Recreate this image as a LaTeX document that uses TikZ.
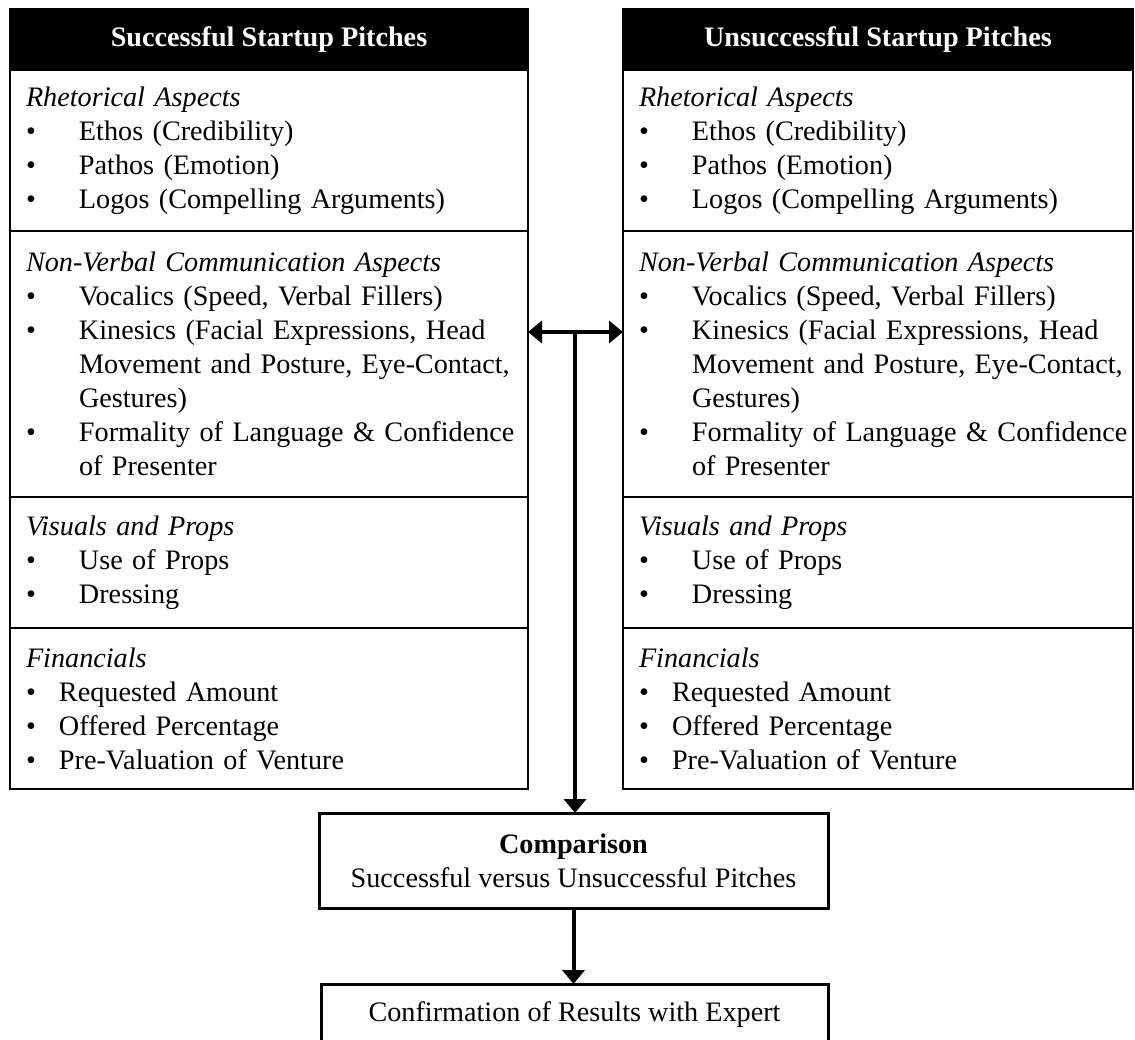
\documentclass[tikz,border=0pt]{standalone}
\usepackage{fontspec}
\setmainfont{Liberation Serif}
\usepackage{tikz}
\usetikzlibrary{arrows.meta,positioning}

\newcommand{\bitem}[1]{\makebox[26.5pt][l]{\textbullet}\mbox{#1}}
\newcommand{\bcont}[1]{\hspace*{26.5pt}\mbox{#1}}
\newcommand{\fitem}[1]{\makebox[16.5pt][l]{\textbullet}\mbox{#1}}

\begin{document}
\begin{tikzpicture}[
    x=0.5pt, y=-0.5pt,
    txt/.style={font=\fontsize{14.1}{17}\selectfont},
    head/.style={
      draw=black, fill=black, text=white,
      line width=1.2pt, outer sep=0pt, inner sep=0pt,
      anchor=north west, minimum width=#1, minimum height=30.5pt,
      font=\fontsize{14.1}{17}\selectfont\bfseries
    },
    sect/.style={
      txt, draw=black, line width=1.2pt, outer sep=0pt,
      anchor=north west, text width=#1,
      inner xsep=8pt, inner ysep=0pt, align=left
    },
    box/.style={txt, draw=black, line width=1.5pt, outer sep=0pt, align=center},
    link/.style={line width=2pt},
    tip/.tip={Triangle[length=7pt,width=11pt]}
  ]
    \useasboundingbox (0,0) rectangle (1135,1039);

    \foreach \s/\x/\w/\tw/\title in {l/10/259pt/243pt/Successful Startup Pitches,
                                     r/623/255pt/239pt/Unsuccessful Startup Pitches} {
      \node[head=\w] (\s h) at (\x,9) {\title};
      \node[sect=\tw, minimum height=80.5pt] (\s 1) at (\s h.south west) {%
        \textit{Rhetorical Aspects}\\
        \bitem{Ethos (Credibility)}\\
        \bitem{Pathos (Emotion)}\\
        \bitem{Logos (Compelling Arguments)}};
      \node[sect=\tw, minimum height=133pt] (\s 2) at (\s 1.south west) {%
        \textit{Non-Verbal Communication Aspects}\\
        \bitem{Vocalics (Speed, Verbal Fillers)}\\
        \bitem{Kinesics (Facial Expressions, Head}\\
        \bcont{Movement and Posture, Eye-Contact,}\\
        \bcont{Gestures)}\\
        \bitem{Formality of Language \& Confidence}\\
        \bcont{of Presenter}};
      \node[sect=\tw, minimum height=65.5pt] (\s 3) at (\s 2.south west) {%
        \textit{Visuals and Props}\\
        \bitem{Use of Props}\\
        \bitem{Dressing}};
      \node[sect=\tw, minimum height=80.5pt] (\s 4) at (\s 3.south west) {%
        \textit{Financials}\\
        \fitem{Requested Amount}\\
        \fitem{Offered Percentage}\\
        \fitem{Pre-Valuation of Venture}};
    }

    \node[box, minimum width=254.5pt, minimum height=47.5pt] (cmp) at (573.5,860.5)
      {\textbf{Comparison}\\Successful versus Unsuccessful Pitches};
    \node[box, minimum width=253.5pt, minimum height=31pt] (cnf) at (574.5,1015)
      {Confirmation of Results with Expert};

    % links between the two columns and down to the comparison
    \coordinate (mid) at (575,332);
    \draw[link, tip-tip] (mid -| l2.east) -- (mid -| r2.west);
    \draw[link, -tip] (mid) -- (mid |- cmp.north);
    \draw[link, -tip] (cmp.south) -- (cmp.south |- cnf.north);
\end{tikzpicture}
\end{document}
